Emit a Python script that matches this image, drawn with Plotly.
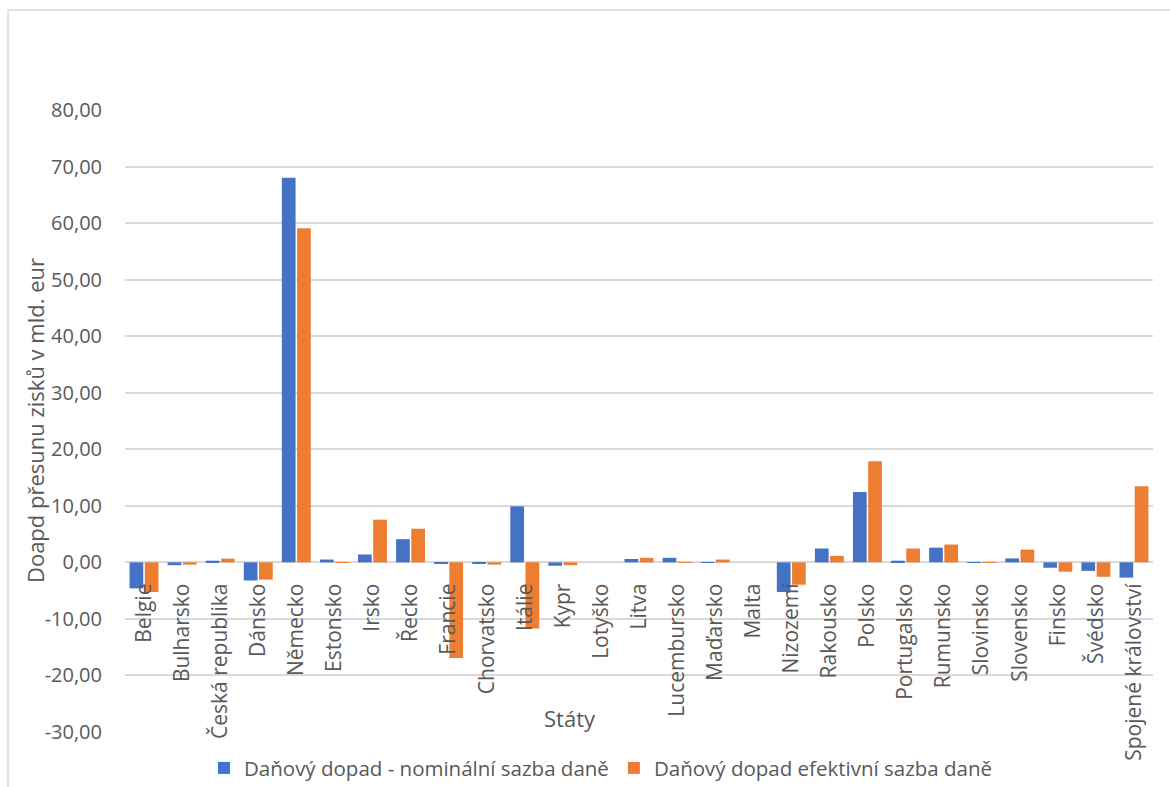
import plotly.graph_objects as go

# Categories (EU member states) and the two tax-impact series, bn EUR
staty = [
    "Belgie", "Bulharsko", "Česká republika", "Dánsko", "Německo", "Estonsko",
    "Irsko", "Řecko", "Francie", "Chorvatsko", "Itálie", "Kypr", "Lotyško",
    "Litva", "Lucembursko", "Maďarsko", "Malta", "Nizozemí", "Rakousko",
    "Polsko", "Portugalsko", "Rumunsko", "Slovinsko", "Slovensko", "Finsko",
    "Švédsko", "Spojené království",
]
nominalni = [
    -4.60, -0.50, 0.30, -3.20, 68.00, 0.50,
    1.40, 4.10, -0.20, -0.20, 9.90, -0.60, 0.00,
    0.60, 0.80, -0.10, 0.00, -5.25, 2.45,
    12.45, 0.30, 2.60, -0.10, 0.70, -0.95,
    -1.50, -2.70,
]
efektivni = [
    -5.25, -0.40, 0.65, -3.05, 59.10, 0.05,
    7.55, 5.95, -16.90, -0.40, -11.70, -0.50, 0.00,
    0.80, 0.05, 0.50, 0.00, -3.95, 1.15,
    17.90, 2.45, 3.15, -0.10, 2.25, -1.65,
    -2.55, 13.45,
]
y_ticks = [80, 70, 60, 50, 40, 30, 20, 10, 0, -10, -20, -30]
y_min, y_max = -30, 80

BLUE = "#4472C4"
ORANGE = "#ED7D31"
GRID = "#D9D9D9"
TEXT = "#595959"
FONT = "Open Sans"

fig = go.Figure()
fig.add_trace(go.Bar(
    x=staty, y=nominalni, name="Daňový dopad - nominální sazba daně",
    marker=dict(color=BLUE, line=dict(width=0)),
))
fig.add_trace(go.Bar(
    x=staty, y=efektivni, name="Daňový dopad efektivní sazba daně",
    marker=dict(color=ORANGE, line=dict(width=0)),
))

# category axis sits on the zero line
zero_pos = (0 - y_min) / (y_max - y_min)

fig.update_layout(
    width=1170, height=787,
    margin=dict(l=125, r=17, t=110, b=55, autoexpand=False),
    paper_bgcolor="white", plot_bgcolor="white",
    font=dict(family=FONT, color=TEXT, size=20),
    barmode="group", bargap=0.2, bargroupgap=0.1,
    showlegend=True,
    legend=dict(
        orientation="h", x=0.463, xanchor="center", y=-0.058, yanchor="middle",
        font=dict(size=20.5, color=TEXT), bgcolor="rgba(0,0,0,0)",
        itemwidth=30, traceorder="normal",
    ),
    xaxis=dict(
        anchor="free", position=zero_pos, automargin=False,
        tickangle=-90, showgrid=False, showline=False, zeroline=False,
        ticks="", ticklabelstandoff=16,
        tickfont=dict(size=21, color=TEXT),
    ),
    yaxis=dict(
        range=[y_min, y_max], tickvals=y_ticks, automargin=False,
        ticktext=[f"{v:.2f}".replace(".", ",") for v in y_ticks],
        showgrid=True, gridcolor=GRID, gridwidth=1.5,
        zeroline=True, zerolinecolor=GRID, zerolinewidth=1.5,
        showline=False, ticks="", ticklabelstandoff=22,
        tickfont=dict(size=20, color=TEXT),
    ),
    annotations=[
        dict(
            text="Státy", xref="paper", yref="paper", x=0.433, y=0.022,
            xanchor="center", yanchor="middle", showarrow=False,
            font=dict(size=22, color=TEXT),
        ),
        dict(
            text="Doapd přesunu zisků v mld. eur", xref="paper", yref="paper",
            x=-0.0875, y=0.5, xanchor="center", yanchor="middle",
            textangle=-90, showarrow=False, font=dict(size=22, color=TEXT),
        ),
    ],
    shapes=[dict(
        type="rect", xref="paper", yref="paper",
        x0=-0.1138, x1=1.1, y0=-0.2, y1=1.1608,
        line=dict(color=GRID, width=1.5), fillcolor="rgba(0,0,0,0)", layer="below",
    )],
)

fig.write_html("out.html")
